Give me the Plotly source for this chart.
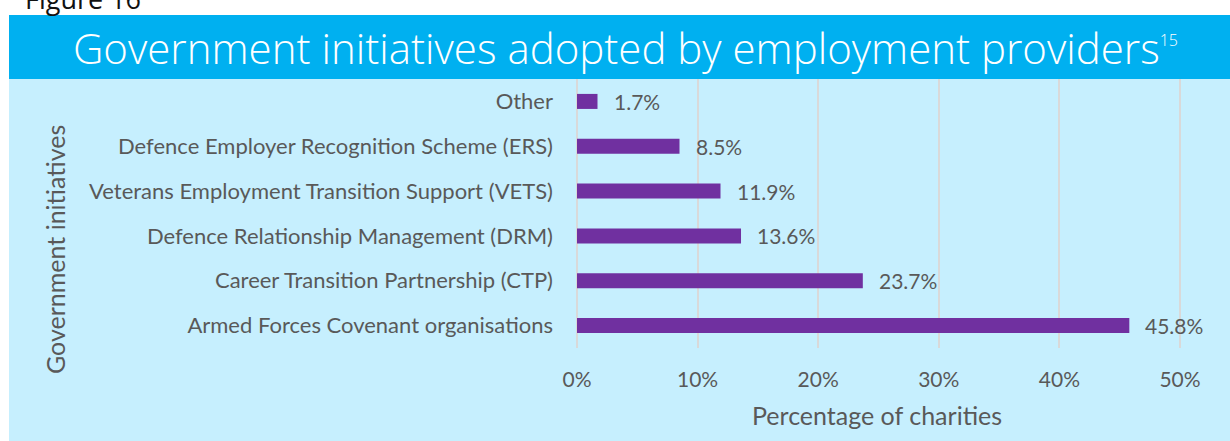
import plotly.graph_objects as go

categories = [
    "Armed Forces Covenant organisations",
    "Career Transition Partnership (CTP)",
    "Defence Relationship Management (DRM)",
    "Veterans Employment Transition Support (VETS)",
    "Defence Employer Recognition Scheme (ERS)",
    "Other",
]
values = [45.8, 23.7, 13.6, 11.9, 8.5, 1.7]
x_ticks = [0, 10, 20, 30, 40, 50]
x_tick_labels = ["0%", "10%", "20%", "30%", "40%", "50%"]

W, H = 1230, 441
L, R, T, B = 577, 1186, 79, 348  # plot area in pixels

def px(x):
    return (x - L) / (R - L)

def py(y):
    return (B - y) / (B - T)

TEXT = "#595959"
LABEL_FONT = "Lato"

fig = go.Figure()
fig.add_trace(go.Bar(
    y=categories, x=values, orientation="h",
    marker=dict(color="#7030A0", line=dict(width=0)),
    width=0.335,
    hoverinfo="skip",
))

shapes = [
    dict(type="rect", xref="paper", yref="paper", x0=px(9), x1=px(1232), y0=py(443), y1=py(79),
         fillcolor="#C6EFFE", line=dict(width=0), layer="below"),
    dict(type="rect", xref="paper", yref="paper", x0=px(9), x1=px(1232), y0=py(79), y1=py(15),
         fillcolor="#00B0F0", line=dict(width=0), layer="below"),
]

annotations = [
    dict(text="Figure 16", xref="paper", yref="paper", x=px(23), y=py(19), xanchor="left", yanchor="bottom",
         showarrow=False, font=dict(family="Open Sans", size=27, color="#111111")),
    dict(text="Government initiatives adopted by employment providers<sup><span style='font-size:16px'>15</span></sup>",
         xref="paper", yref="paper",
         x=px(625), y=py(47), xanchor="center", yanchor="middle", showarrow=False,
         font=dict(family="Open Sans", size=42, color="white", weight=300)),
    dict(text="Government initiatives", xref="paper", yref="paper", x=px(55), y=py(250),
         xanchor="center", yanchor="middle", textangle=-90, showarrow=False,
         font=dict(family=LABEL_FONT, size=25, color=TEXT)),
    dict(text="Percentage of charities", xref="paper", yref="paper", x=px(877), y=py(415),
         xanchor="center", yanchor="middle", showarrow=False,
         font=dict(family=LABEL_FONT, size=25, color=TEXT)),
]

for c, v in zip(categories, values):
    annotations.append(dict(
        text=f"{v:.1f}%", x=v, y=c, xref="x", yref="y", xanchor="left", yanchor="middle",
        xshift=14, showarrow=False, font=dict(family=LABEL_FONT, size=21, color=TEXT),
    ))

fig.update_layout(
    width=W, height=H,
    margin=dict(l=L, r=W - R, t=T, b=H - B, pad=0),
    paper_bgcolor="white",
    plot_bgcolor="rgba(0,0,0,0)",
    showlegend=False,
    shapes=shapes,
    annotations=annotations,
    xaxis=dict(range=[0, 50.5], tickvals=x_ticks, ticktext=x_tick_labels,
               showgrid=True, gridcolor="#D9D9D9", gridwidth=1.5,
               zeroline=True, zerolinecolor="#D9D9D9", zerolinewidth=1.5,
               showline=False, ticks="", ticklabelstandoff=17,
               tickfont=dict(family=LABEL_FONT, size=21, color=TEXT), fixedrange=True),
    yaxis=dict(categoryorder="array", categoryarray=categories, showgrid=False, zeroline=False,
               showline=False, ticks="", ticklabelstandoff=23,
               tickfont=dict(family=LABEL_FONT, size=22, color=TEXT), fixedrange=True),
)

fig.write_html("out.html", config={"displayModeBar": False},
               post_script="document.body.style.margin='0px';")
